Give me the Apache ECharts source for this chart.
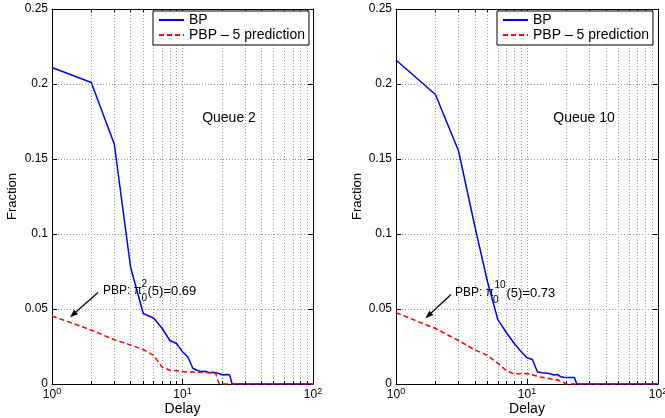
<!DOCTYPE html>
<html><head><meta charset="utf-8">
<script src="https://cdn.jsdelivr.net/npm/echarts@6/dist/echarts.min.js"></script>
<style>html,body{margin:0;padding:0;background:#fff}#c{width:665px;height:418px}</style>
</head><body><div id="c"></div>
<script>
// ---- data ----
const delays = [1,2,3,4,5,6,7,8,9,10,11,12,13,14,15,16,17,18,19,20,21,22,23,24,25,30,40,50,60,70,80,90,100];
const q2BP   = [0.211,0.201,0.160,0.078,0.047,0.044,0.037,0.029,0.027,0.0215,0.018,0.0105,0.009,0.0083,0.0085,0.0075,0.0078,0.0075,0.007,0.0062,0.0062,0.0063,0.006,0,0,0,0,0,0,0,0,0,0];
const q2PBP  = [0.0453,0.036,0.0295,0.026,0.023,0.019,0.0112,0.0092,0.0088,0.0083,0.008,0.008,0.0078,0.0077,0.0076,0.0075,0.0075,0.0068,0.0005,0,0,0,0,0,0,0,0,0,0,0,0,0,0];
const q10BP  = [0.216,0.193,0.1555,0.105,0.068,0.0427,0.034,0.027,0.0216,0.0175,0.0163,0.0082,0.0075,0.0073,0.0068,0.006,0.0064,0.005,0.0045,0.0043,0.0043,0.0043,0.0043,0,0,0,0,0,0,0,0,0,0];
const q10PBP = [0.0476,0.037,0.029,0.0227,0.019,0.0138,0.0087,0.0068,0.0068,0.007,0.0062,0.005,0.0045,0.004,0.0035,0.003,0.0028,0.002,0.001,0,0,0,0,0,0,0,0,0,0,0,0,0,0];
const seriesNames = ['BP', 'PBP \u2013 5 prediction'];
const panelTitles = ['Queue 2', 'Queue 10'];
const xTicks = [1, 10, 100];
const yTicks = [0, 0.05, 0.1, 0.15, 0.2, 0.25];

// ---- chart ----
const FONT = 'Liberation Sans, Arial, Helvetica, sans-serif';
const GRID_LINE = {color:'#9a9a9a', type:[1,2], width:1};
const grids = [
  {left:52, top:9, width:261, height:375, containLabel:false, outerBoundsMode:'none'},
  {left:396, top:9, width:262, height:375, containLabel:false, outerBoundsMode:'none'}
];

function xAx(gi, top) {
  return {
    type:'log', logBase:10, gridIndex:gi, min:xTicks[0], max:xTicks[xTicks.length-1], position: top?'top':'bottom',
    axisLine:{show:true, onZero:false, lineStyle:{color:'#000', width:1}},
    axisTick:{show:true, inside:true, length:5, lineStyle:{color:'#000'}},
    minorTick:{show:true, splitNumber:9, length:3, lineStyle:{color:'#000'}},
    splitLine:{show:!top, lineStyle:GRID_LINE},
    minorSplitLine:{show:!top, lineStyle:GRID_LINE},
    axisLabel: top ? {show:false} : {
      margin:3, color:'#000',
      formatter: v => '{b|10}{s|' + Math.round(Math.log10(v)) + '}',
      rich:{
        b:{fontSize:12, fontFamily:FONT, color:'#000', verticalAlign:'bottom', lineHeight:14},
        s:{fontSize:9, fontFamily:FONT, color:'#000', verticalAlign:'top', lineHeight:14}
      }
    },
    name: top ? '' : 'Delay', nameLocation:'middle', nameGap:18, nameMoveOverlap:false,
    nameTextStyle:{fontSize:14, fontFamily:FONT, color:'#000'}
  };
}
function yAx(gi, right, gap) {
  return {
    type:'value', gridIndex:gi, min:yTicks[0], max:yTicks[yTicks.length-1], interval:0.05, position: right?'right':'left',
    axisLine:{show:true, onZero:false, lineStyle:{color:'#000', width:1}},
    axisTick:{show:true, inside:true, length:5, lineStyle:{color:'#000'}},
    splitLine:{show:!right, lineStyle:GRID_LINE},
    axisLabel: right ? {show:false} : {color:'#000', fontSize:12, fontFamily:FONT, margin:4},
    name: right ? '' : 'Fraction', nameLocation:'middle', nameGap:gap, nameMoveOverlap:false,
    nameTextStyle:{fontSize:13, fontFamily:FONT, color:'#000'}
  };
}
const mk = arr => delays.map((d,i) => [d, arr[i]]);
function lineSeries(name, arr, idx, red) {
  return {
    name, type:'line', xAxisIndex:idx*2, yAxisIndex:idx*2, data:mk(arr), symbol:'none',
    showSymbol:false, silent:true, animation:false, z: red?4:3,
    lineStyle: red ? {color:'#ff0000', width:1.5, type:[5,3]} : {color:'#0000ff', width:1.5},
    itemStyle:{color: red?'#ff0000':'#0000ff'}
  };
}
function legend(left) {
  return {
    left, top:11, orient:'vertical', data:seriesNames, itemWidth:25, itemHeight:14, itemGap:1,
    padding:[2,4,3,5], borderColor:'#000', borderWidth:1, backgroundColor:'#fff', selectedMode:false,
    itemStyle:{opacity:0},
    textStyle:{fontSize:14, fontFamily:FONT, color:'#000', lineHeight:14}
  };
}
function arrow(sx, sy, tx, ty) {
  const dx = tx - sx, dy = ty - sy, L = Math.hypot(dx, dy);
  const ux = dx / L, uy = dy / L, nx = -uy, ny = ux, hl = 8, hw = 3;
  return [
    {type:'line', shape:{x1:sx, y1:sy, x2:tx-ux*6, y2:ty-uy*6}, style:{stroke:'#000', lineWidth:1.2}, z:10},
    {type:'polygon', shape:{points:[[tx,ty],[tx-ux*hl+nx*hw, ty-uy*hl+ny*hw],[tx-ux*hl-nx*hw, ty-uy*hl-ny*hw]]}, style:{fill:'#000'}, z:10}
  ];
}
function txt(x, y, text, size, align) {
  return {type:'text', x, y, z:10, style:{text, fontSize:size, fontFamily:FONT, fill:'#000', align:align||'left', verticalAlign:'middle'}};
}

const option = {
  animation:false,
  backgroundColor:'#fff',
  grid: grids,
  xAxis: [xAx(0,false), xAx(0,true), xAx(1,false), xAx(1,true)],
  yAxis: [yAx(0,false,33), yAx(0,true,0), yAx(1,false,32), yAx(1,true,0)],
  legend: [legend(153), legend(497)],
  series: [
    lineSeries(seriesNames[0], q2BP, 0, false),
    lineSeries(seriesNames[1], q2PBP, 0, true),
    lineSeries(seriesNames[0], q10BP, 1, false),
    lineSeries(seriesNames[1], q10PBP, 1, true)
  ],
  graphic: [
    txt(229, 118, panelTitles[0], 14, 'center'),
    txt(584, 118, panelTitles[1], 14, 'center'),
    txt(103, 291, 'PBP: \u03c0', 12),
    txt(141.5, 298, '0', 10),
    txt(141.5, 284, '2', 10),
    txt(147.5, 291, '(5)=0.69', 13),
    ...arrow(98, 292.5, 70, 317.3),
    txt(455, 293, 'PBP: \u03c0', 12),
    txt(493, 300, '0', 10),
    txt(494.5, 285, '10', 10),
    txt(506.5, 293, '(5)=0.73', 13),
    ...arrow(451, 294.5, 425.5, 318.3)
  ]
};
const chart = echarts.init(document.getElementById('c'));
chart.setOption(option);
</script>
</body></html>
